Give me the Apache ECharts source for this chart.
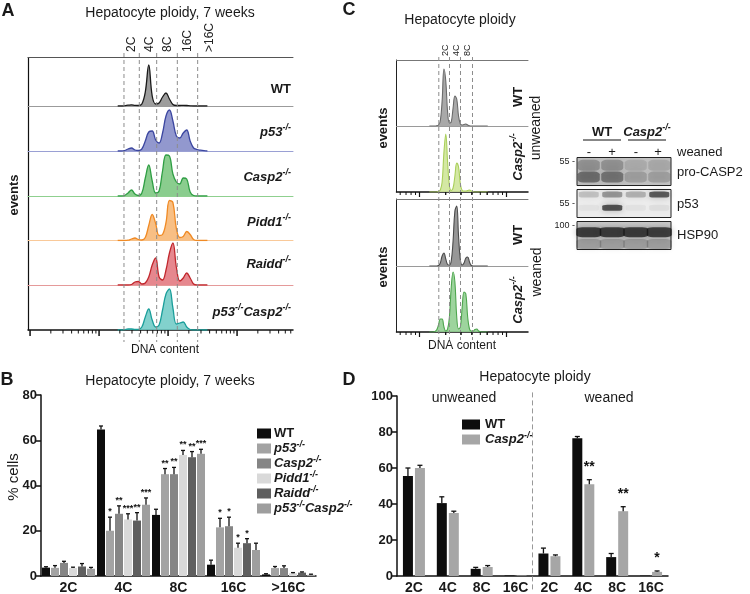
<!DOCTYPE html>
<html><head><meta charset="utf-8">
<script src="https://cdn.jsdelivr.net/npm/echarts@6/dist/echarts.min.js"></script>
<style>html,body{margin:0;padding:0;background:#fff}#c{width:750px;height:594px}</style>
</head><body><div id="c"></div>
<script>
const F = '"Liberation Sans", Arial, Helvetica, sans-serif';

// ---------- Panel A : flow histograms (x = log10 DNA content units, y = relative events)
const aX = [1.30,1.35,1.40,1.45,1.50,1.55,1.60,1.65,1.70,1.75,1.80,1.85,1.90,1.95,2.00,2.05,2.10,2.15,2.20,2.25,2.30,2.35,2.40,2.45,2.50,2.55,2.60];
const aWT       = [0,0,0.3,0.8,1.2,0.6,0.5,2,14,41,10,2,3,9,13,7,1.5,0.5,0.5,0.6,0.5,0.2,0,0,0,0,0];
const aP53      = [0,0,0.5,2,3,1,0.5,2,10,19,20,11,8,18,35,41,30,15,13,18,21,10,3,1.5,0.8,0.3,0];
const aCasp2    = [0,0,0.5,3,6,2,0.5,3,18,31,15,3,5,25,41,40,22,14,12,18,17,4,0.5,0,0,0,0];
const aPidd1    = [0,0,0,0.3,1.5,2.5,1,0.5,3,15,26,17,5,6,18,40,38,12,3,4,9,6,1,0,0,0,0];
const aRaidd    = [0,0,0,0,0.5,3,3.5,1,2,8,20,27,8,5,15,32,42,18,4,7,12,7,1,0,0,0,0];
const aP53Casp2 = [0,0,0.3,1,1,0.5,0.5,3,13,21,10,3,5,20,36,41,22,6,7,8,3,0.5,0,0,0,0,0];
const aGates = [1.391,1.613,1.865,2.164,2.459];
const aGateLabels = ['2C','4C','8C','16C','>16C'];
const aGateLabelPos = [1.50,1.76,2.03,2.31,2.63];

// ---------- Panel C : flow histograms
const cX = [0.90,0.95,1.00,1.05,1.10,1.15,1.20,1.25,1.30,1.35,1.40,1.45,1.50,1.55,1.60,1.65,1.70,1.75,1.80,1.85,1.90,1.95,2.00,2.05,2.10,2.15,2.20,2.25,2.30,2.35,2.40,2.45,2.50];
const cWTunweaned    = [0,0,0,0,0.3,1,5,25,57,45,14,3,4,18,30,27,10,2,1,1.5,2,1,0.3,0,0,0,0,0,0,0,0,0,0];
const cCasp2unweaned = [0,0,0,0,0,0.5,2,10,40,58,30,6,1.5,4,16,29,25,8,1.5,1,1,1.5,2,1,0.3,0,0,0,0,0,0,0,0];
const cWTweaned      = [0,0,0,0,0,0.5,3,10,13,7,1.5,1,5,25,55,60,30,6,1,3,8,9,4,0.5,0,0,0,0,0,0,0,0,0];
const cCasp2weaned   = [0,0,0,0.5,2,7,13,13,5,1,3,15,45,60,50,15,3,5,25,40,38,15,3,1,1,2.5,3,1,0.3,0,0,0,0];
const cGates = [1.159,1.452,1.753,2.082];
const cGateLabels = ['2C','4C','8C'];
const cGateLabelPos = [1.342,1.644,1.945];

// ---------- Western blot (lane index, relative migration 0..1, band intensity)
const blotLanes = ['WT -','WT +','Casp2 -','Casp2 +'];
const bandsProCasp2 = [[0,0.3,0.55],[1,0.3,0.5],[2,0.3,0.22],[3,0.3,0.22],[0,0.72,0.3],[1,0.72,0.3],[2,0.72,0.14],[3,0.72,0.16]];
const bandsP53      = [[0,0.82,0.22],[1,0.82,0.45],[2,0.82,0.3],[3,0.82,0.8],[1,0.35,0.85],[0,0.35,0.05],[2,0.35,0.05],[3,0.35,0.07]];
const bandsHSP90    = [[0,0.62,0.92],[1,0.62,0.92],[2,0.62,0.92],[3,0.62,0.9],[0,0.2,0.25],[1,0.2,0.25],[2,0.2,0.25],[3,0.2,0.25]];

// ---------- Panel B : bars (% cells), mean and SEM
const catsB = ['2C','4C','8C','16C','>16C'];
const bWT        = [3.7,64.8,27,5,0.7];      const bWTerr        = [0.4,1.5,2.5,2,0.3];
const bP53       = [3.6,20,45,21.5,3.5];     const bP53err       = [1,6,2.5,4,0.7];
const bCasp2     = [5.8,27.5,45,22,3.5];     const bCasp2err     = [0.7,3.5,3,4,1];
const bPidd1     = [3.5,25,53.5,12.5,1.2];   const bPidd1err     = [0.4,2.5,2,2,0.3];
const bRaidd     = [4.2,24.5,52.5,14.5,1.5]; const bRaiddErr     = [1.3,3.5,2.5,2,0.3];
const bP53Casp2  = [3.2,31.5,54,11.5,0.5];   const bP53Casp2err  = [0.6,3,2,3,0.3];
const bStars = {
  WT:['','','','',''], p53:['','*','**','*',''], Casp2:['','**','**','*',''],
  Pidd1:['','***','**','*',''], Raidd:['','**','**','*',''], p53Casp2:['','***','***','','']
};

// ---------- Panel D : bars
const catsD = ['2C','4C','8C','16C','2C','4C','8C','16C'];
const dWT    = [55.5,40.5,4,0.3,12.5,76.5,10.5,0.2];  const dWTerr    = [4.5,3.5,0.8,0,3,1,2,0];
const dCasp2 = [60,35,5,0.3,11,51,36,2.3];            const dCasp2err = [1.5,1,0.8,0,0.7,2.5,2.5,0.5];
const dStarsCasp2 = ['','','','','','**','**','*'];

// ================= build =================
const grids=[], xAxis=[], yAxis=[], series=[];
function hid(extra){ return Object.assign({axisLine:{show:false},axisTick:{show:false},axisLabel:{show:false},splitLine:{show:false}}, extra); }
function addGrid(rect, xa, ya){
  grids.push(Object.assign({containLabel:false, outerBoundsMode:'none'}, rect));
  const gi = grids.length-1;
  xAxis.push(Object.assign({gridIndex:gi}, xa));
  yAxis.push(Object.assign({gridIndex:gi}, ya));
  return gi;
}
const rich = {
  n:{fontFamily:F,fontSize:13,fontWeight:'bold',color:'#1a1a1a',lineHeight:17},
  i:{fontFamily:F,fontSize:13,fontWeight:'bold',fontStyle:'italic',color:'#1a1a1a',lineHeight:17},
  s:{fontFamily:F,fontSize:9,fontWeight:'bold',fontStyle:'italic',color:'#1a1a1a',verticalAlign:'top',lineHeight:10}
};
const gen = {WT:'{n|WT}', p53:'{i|p53}{s|-/-}', Casp2:'{i|Casp2}{s|-/-}', Pidd1:'{i|Pidd1}{s|-/-}', Raidd:'{i|Raidd}{s|-/-}', p53Casp2:'{i|p53}{s|-/-}{i|Casp2}{s|-/-}'};

// overlay grid: y axis in pixel units (0 = top edge, inverse) for gates, gate labels and log ticks
const tickSpecs = [];
function overlay(left, top, width, height, xmax, gates, labels, labelPos, labelSize, tickRows){
  const gi = addGrid({left, top, width, height}, hid({type:'value',min:0,max:xmax}), hid({type:'value',min:0,max:height,inverse:true}));
  series.push({type:'custom', xAxisIndex:gi, yAxisIndex:gi, silent:true, z:6, data:gates.map(v=>[v]), renderItem:(p,api)=>{
    const a = api.coord([api.value(0),0]), b = api.coord([api.value(0),height]);
    return {type:'line', shape:{x1:a[0],y1:a[1],x2:b[0],y2:b[1]}, style:{stroke:'#8c8c8c', lineWidth:1, lineDash:[4,3]}};
  }});
  series.push({type:'custom', xAxisIndex:gi, yAxisIndex:gi, silent:true, z:6, data:labelPos.map(v=>[v]), renderItem:(p,api)=>{
    const a = api.coord([api.value(0),0]);
    return {type:'text', x:a[0], y:a[1]-1, rotation:Math.PI/2,
      style:{text:labels[p.dataIndex], fontFamily:F, fontSize:labelSize, fill:'#222', align:'left', verticalAlign:'middle'}};
  }});
  tickRows.forEach(([yOff, ticks, len, w])=>tickSpecs.push({gi, yOff, ticks, len, w}));
}
function axisLineGrid(left, width, y){
  addGrid({left, top:y, width, height:8},
    hid({type:'value', min:0, max:1, position:'top', axisLine:{show:true, onZero:false, lineStyle:{color:'#111', width:1.5}}}),
    hid({type:'value', min:0, max:1}));
}

// ---- Panel A rows
const aRows = [aWT,aP53,aCasp2,aPidd1,aRaidd,aP53Casp2];
const aNames = ['WT','p53','Casp2','Pidd1','Raidd','p53Casp2'];
const aLine = ['#1a1a1a','#3b46a0','#2f9e44','#f08a24','#c1272d','#1a9e9a'];
const aFill = ['#8c8c8c','#7f86c6','#76c47a','#f7b46e','#e2727a','#6cc9c4'];
const aBase = ['#9b9b9b','#9aa0d4','#8fd08f','#f9c999','#e59a9a','#111'];
const aTop = [57.5,106,151,196,240.5,285], aBot = [106,151,196,240.5,285,330];
const aLeft = 28, aW = 265, aXmax = 265/69;
aRows.forEach((vals,i)=>{
  const h = aBot[i]-aTop[i];
  const gi = addGrid({left:aLeft, top:aTop[i], width:aW, height:h},
    hid({type:'value', min:0, max:aXmax, axisLine:{show:i<5, onZero:false, lineStyle:{color:aBase[i], width:1}}}),
    hid({type:'value', min:0, max:h}));
  series.push({type:'line', name:'A '+aNames[i], xAxisIndex:gi, yAxisIndex:gi, silent:true, z:3,
    data:aX.map((x,k)=>[x, vals[k]]), smooth:0.4, symbol:'none',
    lineStyle:{color:aLine[i], width:1.3}, areaStyle:{color:aFill[i], opacity:0.85}});
});
addGrid({left:aLeft, top:57.5, width:aW, height:272.5},
  hid({type:'value', position:'top', axisLine:{show:true, onZero:false, lineStyle:{color:'#555', width:1}}}),
  hid({type:'value', axisLine:{show:true, onZero:false, lineStyle:{color:'#111', width:1.2}}}));
axisLineGrid(aLeft, aW, 330);
const aMaj=[], aMin=[];
for (let d=0; d<4; d++){ const b=d+0.03; aMaj.push(b); for (let k=2;k<10;k++){ const v=b+Math.log10(k); if (v<aXmax) aMin.push(v);} }
overlay(aLeft, 53, aW, 289, aXmax, aGates, aGateLabels, aGateLabelPos, 12, [[277, aMaj, 6, 1.5],[277, aMin, 3.5, 1]]);

// ---- Panel C rows
const cRows = [cWTunweaned,cCasp2unweaned,cWTweaned,cCasp2weaned];
const cLine = ['#6a6a6a','#a9cf5a','#4a4a4a','#4ea64e'];
const cFill = ['#a0a0a0','#cfe69a','#8c8c8c','#92cf92'];
const cTop = [60,126,199,266], cBot = [126,192,266,332];
const cLeft = 396.5, cW = 131.5, cXmax = 131.5/36.5;
cRows.forEach((vals,i)=>{
  const h = cBot[i]-cTop[i];
  const gi = addGrid({left:cLeft, top:cTop[i], width:cW, height:h},
    hid({type:'value', min:0, max:cXmax, axisLine:{show:(i%2===0), onZero:false, lineStyle:{color:'#9a9a9a', width:1}}}),
    hid({type:'value', min:0, max:h}));
  series.push({type:'line', name:'C'+i, xAxisIndex:gi, yAxisIndex:gi, silent:true, z:3,
    data:cX.map((x,k)=>[x, vals[k]]), smooth:0.4, symbol:'none',
    lineStyle:{color:cLine[i], width:1.1}, areaStyle:{color:cFill[i], opacity:0.9}});
});
[[60,132],[199,133]].forEach(([t,h])=>{
  addGrid({left:cLeft, top:t, width:cW, height:h},
    hid({type:'value', position:'top', axisLine:{show:true, onZero:false, lineStyle:{color:'#777', width:1}}}),
    hid({type:'value', axisLine:{show:true, onZero:false, lineStyle:{color:'#222', width:1}}}));
});
axisLineGrid(cLeft, cW, 192); axisLineGrid(cLeft, cW, 332);
// C tick scale: 87 px per decade, majors 23 px from the left edge
const cDec = 87/36.5, cMaj=[23/36.5, 23/36.5+cDec], cMin=[];
cMaj.forEach(b=>{ for (let k=2;k<10;k++){ [b-cDec+cDec*Math.log10(k), b+cDec*Math.log10(k)].forEach(v=>{ if (v>0 && v<cXmax && cMin.indexOf(v)<0) cMin.push(v); }); } });
overlay(cLeft, 57, cW, 283, cXmax, cGates, cGateLabels, cGateLabelPos, 9, [[135, cMaj, 5, 1.2],[135, cMin, 3, 1],[275, cMaj, 5, 1.2],[275, cMin, 3, 1]]);

// ---- Western blot
[[bandsProCasp2,157.5,28,'#c4c4c4',[22,11]],[bandsP53,189.5,28,'#ececec',[20,6]],[bandsHSP90,221.5,28,'#cacaca',[25,10]]].forEach(([bands,top,h,bg,sz])=>{
  grids.push({left:577, top, width:94, height:h, show:true, backgroundColor:bg, borderColor:'#222', borderWidth:1, containLabel:false, outerBoundsMode:'none'});
  const gi = grids.length-1;
  xAxis.push(hid({gridIndex:gi, type:'category', data:blotLanes}));
  yAxis.push(hid({gridIndex:gi, type:'value', min:0, max:1}));
  series.push({type:'scatter', xAxisIndex:gi, yAxisIndex:gi, silent:true, symbol:'roundRect', symbolSize:sz,
    data:bands, itemStyle:{color:p=>'rgba(20,20,20,'+p.data[2]+')', shadowBlur:6, shadowColor:'rgba(20,20,20,0.4)'}});
});

// ---- error bar renderer
function errRender(vals, errs, stars, s, n, step, capW, starGap, starSize){
  return function(params, api){
    const i = params.dataIndex;
    const base = api.coord([i, vals[i]]), tip = api.coord([i, vals[i]+errs[i]]);
    const x = base[0] + (s-(n-1)/2)*step;
    const ch = [];
    if (errs[i] > 0){
      ch.push({type:'line', shape:{x1:x,y1:base[1],x2:x,y2:tip[1]}, style:{stroke:'#111', lineWidth:1.3}});
      ch.push({type:'line', shape:{x1:x-capW/2,y1:tip[1],x2:x+capW/2,y2:tip[1]}, style:{stroke:'#111', lineWidth:1.3}});
    }
    if (stars[i]) ch.push({type:'text', x:x, y:tip[1]-starGap, style:{text:stars[i], fontFamily:F, fontSize:starSize, fontWeight:'bold', fill:'#111', align:'center', verticalAlign:'bottom'}});
    return {type:'group', children:ch};
  };
}

// ---- Panel B
const gB = addGrid({left:41, top:395, width:275, height:181},
  {type:'category', data:catsB, axisLine:{lineStyle:{color:'#111',width:1.5}}, axisTick:{show:false},
   axisLabel:{color:'#1a1a1a', fontWeight:'bold', fontSize:14, fontFamily:F, margin:5}, splitLine:{show:false}},
  {type:'value', min:0, max:80, interval:20, axisLine:{show:true, lineStyle:{color:'#111',width:1.5}},
   axisTick:{show:true, length:5, lineStyle:{color:'#111',width:1.5}},
   axisLabel:{color:'#1a1a1a', fontWeight:'bold', fontSize:13, fontFamily:F, margin:4}, splitLine:{show:false}});
const bSeries = [['WT',bWT,bWTerr,'#0d0d0d'],['p53',bP53,bP53err,'#a3a3a3'],['Casp2',bCasp2,bCasp2err,'#858585'],
                 ['Pidd1',bPidd1,bPidd1err,'#d9d9d9'],['Raidd',bRaidd,bRaiddErr,'#5f5f5f'],['p53Casp2',bP53Casp2,bP53Casp2err,'#9e9e9e']];
bSeries.forEach(([name,vals,errs,col],s)=>{
  series.push({type:'bar', name, xAxisIndex:gB, yAxisIndex:gB, data:vals, barWidth:8, barGap:'12.5%', itemStyle:{color:col}, silent:true});
});
bSeries.forEach(([name,vals,errs,col],s)=>{
  series.push({type:'custom', name:'err '+name, xAxisIndex:gB, yAxisIndex:gB, silent:true, z:5,
    data:vals.map((v,i)=>[i,v]), renderItem:errRender(vals,errs,bStars[name],s,6,9,4,1,9)});
});

// ---- Panel D
const gD = addGrid({left:397, top:396, width:271, height:180},
  {type:'category', data:catsD, axisLine:{lineStyle:{color:'#111',width:1.5}}, axisTick:{show:false},
   axisLabel:{color:'#1a1a1a', fontWeight:'bold', fontSize:14, fontFamily:F, margin:5, interval:0}, splitLine:{show:false}},
  {type:'value', min:0, max:100, interval:20, axisLine:{show:true, lineStyle:{color:'#111',width:1.5}},
   axisTick:{show:true, length:5, lineStyle:{color:'#111',width:1.5}},
   axisLabel:{color:'#1a1a1a', fontWeight:'bold', fontSize:13, fontFamily:F, margin:4}, splitLine:{show:false}});
series.push({type:'bar', name:'WT_D', xAxisIndex:gD, yAxisIndex:gD, data:dWT, barWidth:10, barGap:'20%', itemStyle:{color:'#0d0d0d'}, silent:true});
series.push({type:'bar', name:'Casp2_D', xAxisIndex:gD, yAxisIndex:gD, data:dCasp2, barWidth:10, barGap:'20%', itemStyle:{color:'#a6a6a6'}, silent:true});
series.push({type:'custom', xAxisIndex:gD, yAxisIndex:gD, silent:true, z:5, data:dWT.map((v,i)=>[i,v]), renderItem:errRender(dWT,dWTerr,['','','','','','','',''],0,2,12,5,0,14)});
series.push({type:'custom', xAxisIndex:gD, yAxisIndex:gD, silent:true, z:5, data:dCasp2.map((v,i)=>[i,v]), renderItem:errRender(dCasp2,dCasp2err,dStarsCasp2,1,2,12,5,6,14)});
series.push({type:'custom', xAxisIndex:gD, yAxisIndex:gD, silent:true, z:4, clip:false, data:[[3,0]], renderItem:(p,api)=>{
  const a = api.coord([3,102]), b = api.coord([4,-8]); const x = (a[0]+b[0])/2;
  return {type:'line', shape:{x1:x,y1:a[1],x2:x,y2:b[1]}, style:{stroke:'#999', lineWidth:1, lineDash:[5,3]}};
}});

// ================= texts =================
function T(x,y,text,o){ o=o||{}; return {type:'text', x, y, rotation:o.rot||0, silent:true, z:100,
  style:{text, fontFamily:F, fontSize:o.size||13, fontWeight:o.bold?'bold':'normal', fontStyle:o.italic?'italic':'normal',
  fill:o.color||'#1a1a1a', align:o.align||'center', verticalAlign:o.va||'middle', rich:o.rich}}; }
function L(x1,y1,x2,y2,w){ return {type:'line', silent:true, z:100, shape:{x1,y1,x2,y2}, style:{stroke:'#111', lineWidth:w||1}}; }
const R = Math.PI/2;
const graphic = [
  T(8,11,'A',{size:18,bold:true}),
  T(170,13,'Hepatocyte ploidy, 7 weeks',{size:14}),
  T(14,195,'events',{size:13,bold:true,rot:R}),
  T(165,350,'DNA content',{size:12}),
  T(291,89,gen.WT,{align:'right',rich}),
  T(291,132,gen.p53,{align:'right',rich}),
  T(291,177,gen.Casp2,{align:'right',rich}),
  T(291,222,gen.Pidd1,{align:'right',rich}),
  T(291,264,gen.Raidd,{align:'right',rich}),
  T(291,312,gen.p53Casp2,{align:'right',rich}),

  T(349,10,'C',{size:18,bold:true}),
  T(460,20,'Hepatocyte ploidy',{size:14}),
  T(383,128,'events',{size:13,bold:true,rot:R}),
  T(383,267,'events',{size:13,bold:true,rot:R}),
  T(518,97,gen.WT,{rot:R,rich}),
  T(518,157,gen.Casp2,{rot:R,rich}),
  T(518,235,gen.WT,{rot:R,rich}),
  T(518,300,gen.Casp2,{rot:R,rich}),
  T(536,128,'unweaned',{size:14,rot:R}),
  T(537,272,'weaned',{size:14,rot:R}),
  T(462,346,'DNA content',{size:12}),

  T(602,132,gen.WT,{rich}),
  T(647,132,gen.Casp2,{rich}),
  L(583,140,621,140), L(628,140,666,140),
  T(589,152,'-',{size:13}), T(612,152,'+',{size:13}), T(636,152,'-',{size:13}), T(658,152,'+',{size:13}),
  T(677,152,'weaned',{size:13,align:'left'}),
  T(677,172,'pro-CASP2',{size:13,align:'left'}),
  T(677,204,'p53',{size:13,align:'left'}),
  T(677,235,'HSP90',{size:13,align:'left'}),
  T(575,162,'55 -',{size:9,align:'right'}),
  T(575,204,'55 -',{size:9,align:'right'}),
  T(575,226,'100 -',{size:9,align:'right'}),

  T(7,380,'B',{size:18,bold:true}),
  T(170,381,'Hepatocyte ploidy, 7 weeks',{size:14}),
  T(14,477,'% cells',{size:15,rot:R}),

  T(349,380,'D',{size:18,bold:true}),
  T(535,377,'Hepatocyte ploidy',{size:14}),
  T(464,398,'unweaned',{size:14}),
  T(609,398,'weaned',{size:14})
];

const legendFmt = {WT:gen.WT,p53:gen.p53,Casp2:gen.Casp2,Pidd1:gen.Pidd1,Raidd:gen.Raidd,p53Casp2:gen.p53Casp2,WT_D:gen.WT,Casp2_D:gen.Casp2};
const option = {
  animation:false, backgroundColor:'#fff',
  grid:grids, xAxis, yAxis, series, graphic,
  legend:[
    {left:252, top:422, orient:'vertical', icon:'rect', itemWidth:14, itemHeight:10, itemGap:0, selectedMode:false,
     data:['WT','p53','Casp2','Pidd1','Raidd','p53Casp2'], formatter:n=>legendFmt[n], textStyle:{rich, padding:[0,0,0,-2]}},
    {left:457, top:413, orient:'vertical', icon:'rect', itemWidth:18, itemHeight:10, itemGap:0, selectedMode:false,
     data:['WT_D','Casp2_D'], formatter:n=>legendFmt[n], textStyle:{rich}}
  ]
};
const chart = echarts.init(document.getElementById('c'), null, {renderer:'canvas', width:750, height:594});
chart.setOption(option);

// log-scale axis ticks, positioned through the overlay grids' own scales
const tickEls = [];
tickSpecs.forEach(({gi, yOff, ticks, len, w})=>{
  ticks.forEach(v=>{
    const a = chart.convertToPixel({gridIndex:gi}, [v, yOff]);
    const b = chart.convertToPixel({gridIndex:gi}, [v, yOff+len]);
    if (a && b) tickEls.push(L(a[0], a[1], b[0], b[1], w));
  });
});
chart.setOption({graphic: graphic.concat(tickEls)});
</script></body></html>
